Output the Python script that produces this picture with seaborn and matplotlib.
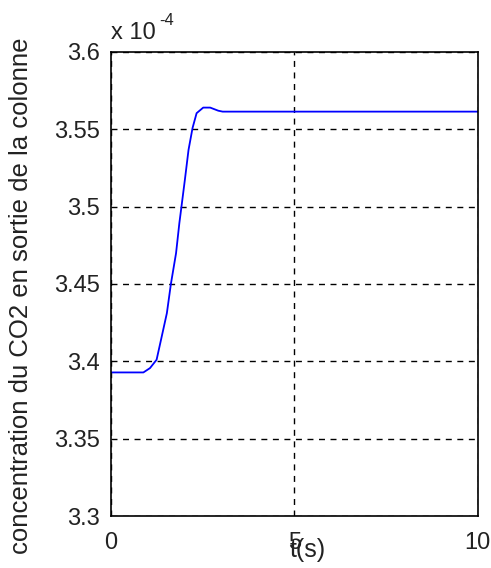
import numpy as np
import pandas as pd
import matplotlib
matplotlib.use("Agg")
import matplotlib.pyplot as plt
from matplotlib.ticker import FuncFormatter
import seaborn as sns

# Outlet CO2 concentration vs time (values in units of 1e-4)
t_s = [0.0, 0.89, 1.07, 1.25, 1.39, 1.53, 1.64, 1.78, 1.87, 1.93, 2.02,
       2.12, 2.23, 2.34, 2.52, 2.71, 2.93, 3.05, 10.0]
co2_e4 = [3.3929, 3.3929, 3.3957, 3.4011, 3.4161, 3.4312, 3.4501, 3.4699,
          3.4893, 3.5004, 3.5172, 3.5366, 3.5508, 3.5603, 3.5639, 3.5639,
          3.5619, 3.5613, 3.5613]
y_ticks_e4 = [3.3, 3.35, 3.4, 3.45, 3.5, 3.55, 3.6]
x_ticks = [0, 5, 10]

df = pd.DataFrame({"t": t_s, "c": np.array(co2_e4) * 1e-4})

sns.set_theme(style="white")
plt.rcParams["font.family"] = ["Liberation Sans", "DejaVu Sans"]

fig = plt.figure(figsize=(4.91, 5.68), dpi=100)
ax = fig.add_axes([0.2255, 0.091, 0.7475, 0.818])

sns.lineplot(data=df, x="t", y="c", ax=ax, color="#0000ff", linewidth=1.3)

ax.set_xlim(0, 10)
ax.set_ylim(3.3e-4, 3.6e-4)
ax.set_xticks(x_ticks)
ax.set_yticks([v * 1e-4 for v in y_ticks_e4])
ax.yaxis.set_major_formatter(FuncFormatter(lambda v, p: f"{v / 1e-4:g}"))

ax.grid(True, color="black", linestyle=(0, (4.3, 4)), linewidth=1.0)
for s in ax.spines.values():
    s.set_color("black")
    s.set_linewidth(1.2)

ax.tick_params(axis="both", direction="in", length=4, width=1, colors="black",
               labelsize=17, labelcolor="#222222")
ax.tick_params(axis="y", pad=8)
ax.tick_params(axis="x", pad=11)

ax.set_xlabel("t(s)", fontsize=18, color="#222222")
ax.xaxis.set_label_coords(0.536, -0.047)
ax.set_ylabel("concentration du CO2 en sortie de la colonne", fontsize=18.5,
              color="#222222")
ax.yaxis.set_label_coords(-0.212, 0.475)

# scale factor shown above the y axis
ax.text(0.0, 1.028, "x 10", transform=ax.transAxes, fontsize=17,
        color="#222222", ha="left", va="baseline")
ax.annotate("-4", xy=(0.0, 1.028), xycoords="axes fraction",
            xytext=(35, 10), textcoords="offset points", fontsize=12,
            color="#222222", ha="left", va="baseline")

fig.savefig("out.png", dpi=100)
